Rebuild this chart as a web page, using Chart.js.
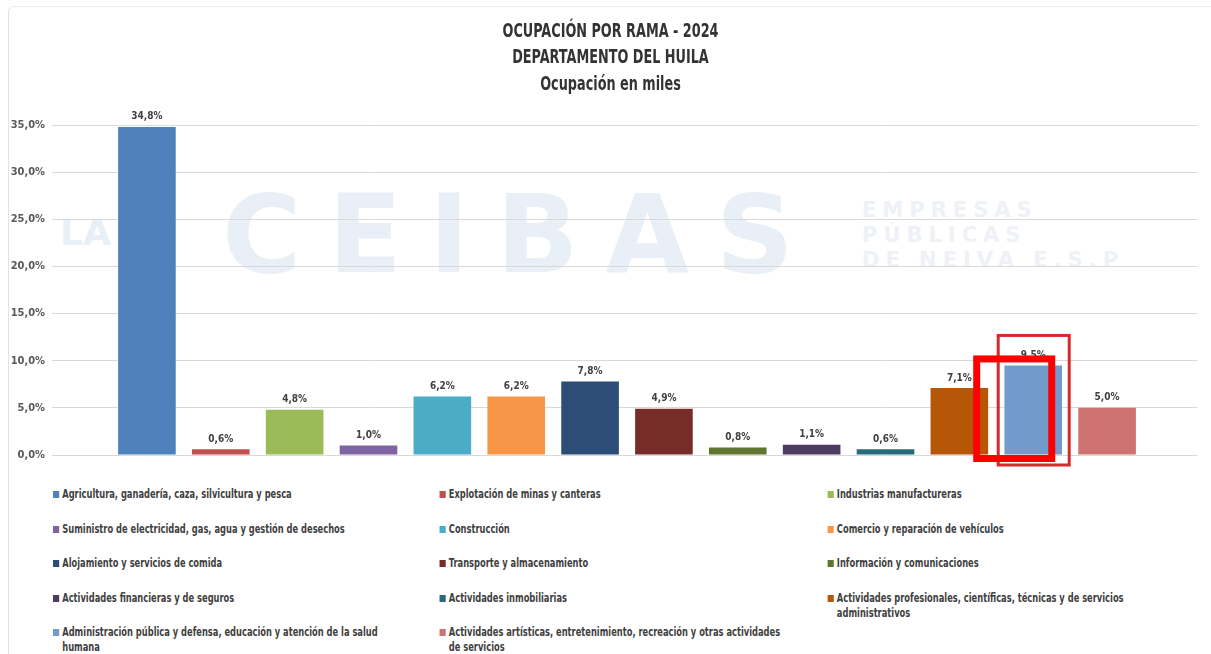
<!DOCTYPE html>
<html>
<head>
<meta charset="utf-8">
<script src="https://cdn.jsdelivr.net/npm/chart.js@4"></script>
<style>
  body { margin: 0; background: #fff; }
  #wrap { position: relative; width: 1211px; height: 654px; overflow: hidden; }
  #frame { position: absolute; left: 8px; top: 6px; right: 0; bottom: 0;
    border-left: 1px solid #e2e2e2; border-top: 1px solid #ececec; border-top-left-radius: 6px; }
  .wm { position: absolute; color: #e8eff6; font-family: "DejaVu Sans", sans-serif; font-weight: bold; white-space: nowrap; }
  #chartBox { position: absolute; left: 0; top: 0; width: 1211px; height: 470px; }
  #legend { position: absolute; left: 53px; top: 487px; display: grid;
    grid-template-columns: 502px 504px 480px; grid-auto-rows: 34.5px;
    transform: scaleX(0.77); transform-origin: 0 0; }
  .item { display: flex; align-items: flex-start; font-family: "DejaVu Sans Condensed", sans-serif;
    font-weight: bold; font-size: 12px; line-height: 15px; color: #3f3f3f; }
  .item i { flex: none; width: 8px; height: 7px; margin: 4px 4px 0 0; }
  .item span { max-width: 436px; }
</style>
</head>
<body>
<div id="wrap">
  <div id="frame"></div>
  <div class="wm" style="left:60px;top:212px;font-size:36px;">LA</div>
  <div class="wm" style="left:222px;top:172px;font-size:108px;letter-spacing:27px;">CEIBAS</div>
  <div class="wm" style="left:862px;top:198px;font-size:21px;letter-spacing:6px;line-height:25px;color:#eef2f6;">EMPRESAS<br>PÚBLICAS<br>DE NEIVA E.S.P</div>
  <div id="chartBox"><canvas id="myBarChart"></canvas></div>
  <div id="legend"></div>
</div>
<script>
// Ocupacion por rama - Huila 2024

var categories = [
  "Agricultura, ganadería, caza, silvicultura y pesca",
  "Explotación de minas y canteras",
  "Industrias manufactureras",
  "Suministro de electricidad, gas, agua y gestión de desechos",
  "Construcción",
  "Comercio y reparación de vehículos",
  "Alojamiento y servicios de comida",
  "Transporte y almacenamiento",
  "Información y comunicaciones",
  "Actividades financieras y de seguros",
  "Actividades inmobiliarias",
  "Actividades profesionales, científicas, técnicas y de servicios administrativos",
  "Administración pública y defensa, educación y atención de la salud humana",
  "Actividades artísticas, entretenimiento, recreación y otras actividades de servicios"
];
var shares = [34.8, 0.6, 4.8, 1.0, 6.2, 6.2, 7.8, 4.9, 0.8, 1.1, 0.6, 7.1, 9.5, 5.0];
var barColors = ["#4F81BD", "#C0504D", "#9BBB59", "#8064A2", "#4BACC6", "#F79646", "#2C4D75",
  "#772C2A", "#5F7530", "#4D3B62", "#276A7C", "#B65708", "#729ACA", "#CD7371"];
var titleLines = ["OCUPACIÓN POR RAMA - 2024", "DEPARTAMENTO DEL HUILA", "Ocupación en miles"];
var highlighted = 12;

var narrow = '"DejaVu Sans Condensed", sans-serif';

function pct(v) {
  return v.toFixed(1).replace(".", ",") + "%";
}

// legend as html, 3 columns
var legendEl = document.getElementById("legend");
categories.forEach(function (name, i) {
  var d = document.createElement("div");
  d.className = "item";
  d.innerHTML = '<i style="background:' + barColors[i] + '"></i><span></span>';
  d.querySelector("span").textContent = name;
  legendEl.appendChild(d);
});

// narrow title, 3 lines
var narrowTitle = {
  id: "narrowTitle",
  afterDraw: function (chart) {
    var ctx = chart.ctx;
    var cx = chart.width / 2 + 5;
    ctx.save();
    ctx.font = "bold 19px " + narrow;
    ctx.fillStyle = "#333333";
    ctx.textAlign = "center";
    ctx.textBaseline = "middle";
    titleLines.forEach(function (line, i) {
      ctx.save();
      ctx.translate(cx, 32 + i * 26.5);
      ctx.scale(0.75, 1);
      ctx.fillText(line, 0, 0);
      ctx.restore();
    });
    ctx.restore();
  }
};

// value labels above bars
var valueLabels = {
  id: "valueLabels",
  afterDatasetsDraw: function (chart) {
    var ctx = chart.ctx;
    var meta = chart.getDatasetMeta(0);
    ctx.save();
    ctx.font = "bold 10px " + narrow;
    ctx.fillStyle = "#404040";
    ctx.textAlign = "center";
    ctx.textBaseline = "bottom";
    meta.data.forEach(function (bar, i) {
      ctx.fillText(pct(shares[i]), bar.x, bar.y - 5);
    });
    ctx.restore();
  }
};

// the two red marks drawn over the 9,5% bar
var redMarks = {
  id: "redMarks",
  afterDraw: function (chart) {
    var bar = chart.getDatasetMeta(0).data[highlighted];
    var base = chart.scales.y.getPixelForValue(0);
    var ctx = chart.ctx;
    ctx.save();
    ctx.strokeStyle = "#D42A2A";
    ctx.lineWidth = 3;
    ctx.strokeRect(bar.x - 35, bar.y - 30, 71, base + 10 - (bar.y - 30));
    ctx.strokeStyle = "#FF0000";
    ctx.lineWidth = 7;
    ctx.strokeRect(bar.x - 56.5, bar.y - 6.5, 75, base + 3.5 - (bar.y - 6.5));
    ctx.restore();
  }
};

var ctx = document.getElementById("myBarChart").getContext("2d");
var myBarChart = new Chart(ctx, {
  type: "bar",
  data: {
    labels: categories,
    datasets: [{
      data: shares,
      backgroundColor: barColors,
      barPercentage: 0.78,
      categoryPercentage: 1
    }]
  },
  options: {
    maintainAspectRatio: false,
    responsive: true,
    animation: false,
    layout: { padding: { top: 125, bottom: 7, left: 0, right: 0 } },
    plugins: {
      legend: { display: false },
      tooltip: { enabled: false },
      title: { display: false }
    },
    scales: {
      x: {
        ticks: { display: false },
        grid: { display: false },
        border: { display: false }
      },
      y: {
        min: 0,
        max: 35,
        ticks: {
          stepSize: 5,
          padding: 7,
          color: "#595959",
          font: { family: narrow, size: 11, weight: "bold" },
          callback: function (v) { return pct(v); }
        },
        grid: { color: "#D9D9D9", tickColor: "#D9D9D9", drawTicks: true, tickLength: 58 },
        border: { display: false },
        afterFit: function (scale) { scale.width = 110; }
      },
      y2: {
        position: "right",
        min: 0,
        max: 35,
        ticks: { stepSize: 5, display: false },
        grid: { drawOnChartArea: false, color: "#D9D9D9", tickColor: "#D9D9D9", drawTicks: true, tickLength: 53 },
        border: { display: false },
        afterFit: function (scale) { scale.width = 67; }
      }
    }
  },
  plugins: [valueLabels, redMarks, narrowTitle]
});
</script>
</body>
</html>
